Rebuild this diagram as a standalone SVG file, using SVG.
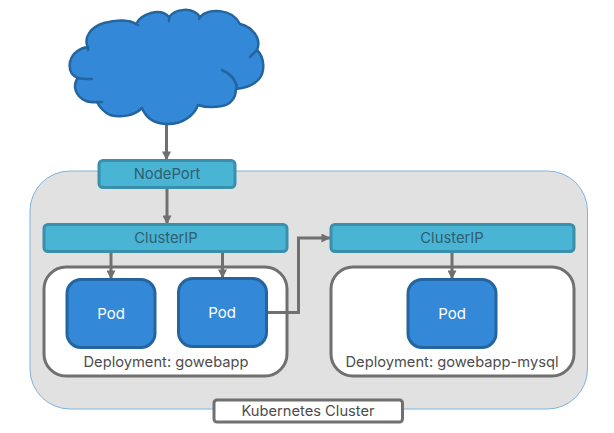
<svg xmlns="http://www.w3.org/2000/svg" width="614" height="433" viewBox="0 0 614 433">
<style>
text{font-family:"Inter","Open Sans","Liberation Sans",sans-serif;text-anchor:middle}
.svc{fill:#49b4d4;stroke:#3a90ab;stroke-width:3}
.svct{font-size:14.800px;fill:#2f5f70}
.dep{fill:#fff;stroke:#707070;stroke-width:3}
.dept{font-size:14.700px;fill:#4d4d4d}
.pod{fill:#3389d8;stroke:#2465a0;stroke-width:3}
.podt{font-size:15px;fill:#fff}
.c{fill:none;stroke:#707070;stroke-width:3}
.cloud{fill:#3389d8;stroke:#24659e;stroke-width:2.500;stroke-linecap:round;stroke-linejoin:round}
.notch{fill:none;stroke:#24659e;stroke-width:2.500;stroke-linecap:round}
</style>
<defs>
<marker id="a" viewBox="0 0 8 8" refX="7.600" refY="4" markerUnits="userSpaceOnUse" markerWidth="9" markerHeight="9" orient="auto"><path d="M0 0L8 4L0 8Z" fill="#707070"/></marker>
</defs>
<g id="cluster"><rect x="30" y="171" width="557.500" height="238" rx="40" fill="#e1e1e1" stroke="#7fb2dc" stroke-width="1"/></g>
<g id="cluster-label"><rect x="214" y="400" width="188.500" height="22" rx="3" fill="#fff" stroke="#707070" stroke-width="3"/><text x="308" y="416" class="dept">Kubernetes Cluster</text></g>
<g id="deployment-gowebapp"><rect x="44" y="267" width="243" height="109" rx="22" class="dep"/><text x="166" y="367" class="dept">Deployment: gowebapp</text></g>
<g id="deployment-mysql"><rect x="331" y="267" width="243" height="109" rx="22" class="dep"/><text x="452" y="367" class="dept">Deployment: gowebapp-mysql</text></g>
<g id="connectors">
<path class="c" d="M166.500 123V160" marker-end="url(#a)"/>
<path class="c" d="M167 188V224" marker-end="url(#a)"/>
<path class="c" d="M111 252V279" marker-end="url(#a)"/>
<path class="c" d="M222.500 252V278" marker-end="url(#a)"/>
<path class="c" d="M452 252V279" marker-end="url(#a)"/>
<path class="c" d="M267 312.500H298.500V238H330" marker-end="url(#a)"/>
</g>
<g id="cloud"><path class="cloud" d="M88 48C83 37 91 27 104 23C118 19 130 20 136 24C141 14 160 7 169 17C175 9 192 6 200 17C208 8 232 8 240 24C252 27 262 38 257 50C265 58 265 72 259 79C254 85 246 88 236 89C236 98 230 105 222 106C212 108 204 107 198 105C194 116 182 124 168 124C155 124 146 118 142 108C134 116 120 118 110 115C104 112 100 108 97 102C86 104 76 97 75 87C75 83 76 80 78 78C70 75 69 68 70 62C72 53 80 48 88 47Z"/><path class="notch" d="M222 70C231 74 236 80 237 88M92 79C86 79 82 79 78 78M88 47L88 50M102 102L97 102M257 50L250 57M136 24L138 25M169 17V21M200 17L199 19"/></g>
<g id="nodeport"><rect x="99" y="160.500" width="136" height="27" rx="4" class="svc"/><text x="167" y="179" class="svct">NodePort</text></g>
<g id="clusterip-left"><rect x="44" y="224.500" width="243" height="27" rx="4" class="svc"/><text x="166" y="243" class="svct">ClusterIP</text></g>
<g id="clusterip-right"><rect x="331" y="224.500" width="243" height="27" rx="4" class="svc"/><text x="452" y="243" class="svct">ClusterIP</text></g>
<g id="pod-1"><rect x="67" y="279.500" width="88" height="68" rx="14" class="pod"/><text x="111" y="319" class="podt">Pod</text></g>
<g id="pod-2"><rect x="178.500" y="278.500" width="88" height="68" rx="14" class="pod"/><text x="222" y="318" class="podt">Pod</text></g>
<g id="pod-3"><rect x="408" y="279.500" width="88" height="68" rx="14" class="pod"/><text x="452" y="319" class="podt">Pod</text></g>
</svg>
